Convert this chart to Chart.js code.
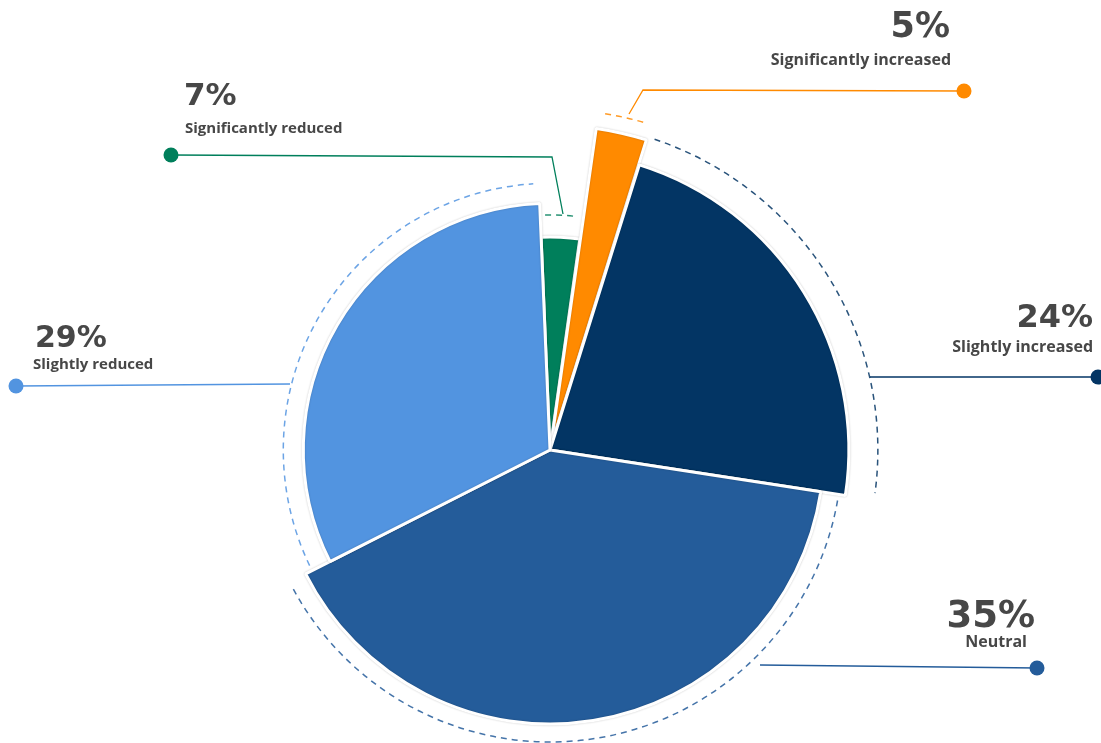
<!DOCTYPE html>
<html>
<head>
<meta charset="utf-8">
<script src="https://cdn.jsdelivr.net/npm/chart.js@4/dist/chart.umd.min.js"></script>
<style>
  html, body { margin: 0; padding: 0; background: #fff; }
  #wrap { width: 1101px; height: 743px; position: relative; }
</style>
</head>
<body>
<div id="wrap"><canvas id="grafico"></canvas></div>
<script>
// Datos (orden horario desde arriba)
const categories = ['Significantly reduced', 'Significantly increased', 'Slightly increased', 'Neutral', 'Slightly reduced'];
const shownPercent = [7, 5, 24, 35, 29];
// tamaño de cada sector tal como se dibuja en la imagen (%)
const sliceShares = [2.9, 2.6, 22.6, 40.1, 31.8];

// Estilos
const colors = ['#007f5b', '#ff8a00', '#033564', '#245c9a', '#5294e0'];
const sliceScale = [0.727, 1.085, 1.02, 0.935, 0.842];
const ringGap = [22, 16, 29, 18, 20];
const textColor = '#474747';
const pctFont = '"DejaVu Sans", Roboto, sans-serif';
const subFont = '"Open Sans", Roboto, sans-serif';

// Etiquetas y líneas guía
const callouts = [
    { line: [[563, 214], [552, 157], [171, 155]], align: 'left',
      pct: { x: 184, y: 105, size: 31 }, sub: { x: 185, y: 133, size: 15 } },
    { line: [[629, 114], [643, 90], [964, 91]], align: 'right',
      pct: { x: 950, y: 37, size: 35 }, sub: { x: 951, y: 65, size: 16 } },
    { line: [[870, 377], [1098, 377]], align: 'right',
      pct: { x: 1093, y: 327, size: 32 }, sub: { x: 1093, y: 352, size: 16 } },
    { line: [[760, 665], [1037, 668]], align: 'right',
      pct: { x: 1035, y: 627, size: 37 }, sub: { x: 1027, y: 647, size: 16 } },
    { line: [[290, 384], [16, 386]], align: 'left',
      pct: { x: 35, y: 347, size: 30 }, sub: { x: 33, y: 369, size: 15 } }
];

// Radio distinto por sector, anillos punteados y etiquetas
const sliceShape = {
    id: 'sliceShape',
    afterDatasetUpdate(chart, args) {
        const meta = chart.getDatasetMeta(args.index);
        const base = Math.min(chart.chartArea.width, chart.chartArea.height) / 2;
        meta.data.forEach((arc, i) => { arc.outerRadius = base * sliceScale[i]; });
    },
    beforeDatasetsDraw(chart) {
        const ctx = chart.ctx;
        ctx.save();
        ctx.shadowColor = 'rgba(0,0,0,0.22)';
        ctx.shadowBlur = 2;
    },
    afterDatasetsDraw(chart) {
        const ctx = chart.ctx;
        ctx.restore();
        const meta = chart.getDatasetMeta(0);

        meta.data.forEach((arc, i) => {
            // mismo desplazamiento que usa ArcElement para el offset
            const mid = (arc.startAngle + arc.endAngle) / 2;
            const off = (arc.options.offset || 0) / 4;
            const fix = 1 - Math.sin(Math.min(Math.PI, arc.circumference || 0));
            const t = off * (1 + fix);
            const cx = arc.x + Math.cos(mid) * t;
            const cy = arc.y + Math.sin(mid) * t;
            const pad = 1.2 * Math.PI / 180;

            ctx.save();
            ctx.strokeStyle = colors[i];
            ctx.globalAlpha = 0.85;
            ctx.lineWidth = 1.5;
            ctx.setLineDash([6, 5]);
            ctx.beginPath();
            ctx.arc(cx, cy, arc.outerRadius + ringGap[i], arc.startAngle + pad, arc.endAngle - pad);
            ctx.stroke();
            ctx.restore();

            // línea guía
            const c = callouts[i];
            ctx.save();
            ctx.strokeStyle = colors[i];
            ctx.lineWidth = 1.3;
            ctx.beginPath();
            c.line.forEach((p, k) => k === 0 ? ctx.moveTo(p[0], p[1]) : ctx.lineTo(p[0], p[1]));
            ctx.stroke();
            const end = c.line[c.line.length - 1];
            ctx.fillStyle = colors[i];
            ctx.beginPath();
            ctx.arc(end[0], end[1], 7.5, 0, Math.PI * 2);
            ctx.fill();

            // textos
            ctx.fillStyle = textColor;
            ctx.textAlign = c.align;
            ctx.textBaseline = 'alphabetic';
            ctx.font = `700 ${c.pct.size}px ${pctFont}`;
            ctx.fillText(shownPercent[i] + '%', c.pct.x, c.pct.y);
            ctx.font = `700 ${c.sub.size}px ${subFont}`;
            ctx.fillText(categories[i], c.sub.x, c.sub.y);
            ctx.restore();
        });
    }
};

const ctx = document.getElementById('grafico').getContext('2d');
const grafico = new Chart(ctx, {
    type: 'pie',
    data: {
        labels: categories,
        datasets: [{
            data: sliceShares,
            backgroundColor: colors,
            borderColor: '#ffffff',
            borderWidth: 3,
            offset: [0, 15, 0, 0, 0],
            clip: false
        }]
    },
    options: {
        responsive: true,
        maintainAspectRatio: false,
        animation: false,
        events: [],
        rotation: -2.4,
        layout: { padding: { left: 0, right: 1, top: 157, bottom: 0 } },
        plugins: {
            legend: { display: false },
            tooltip: { enabled: false }
        }
    },
    plugins: [sliceShape]
});
</script>
</body>
</html>
